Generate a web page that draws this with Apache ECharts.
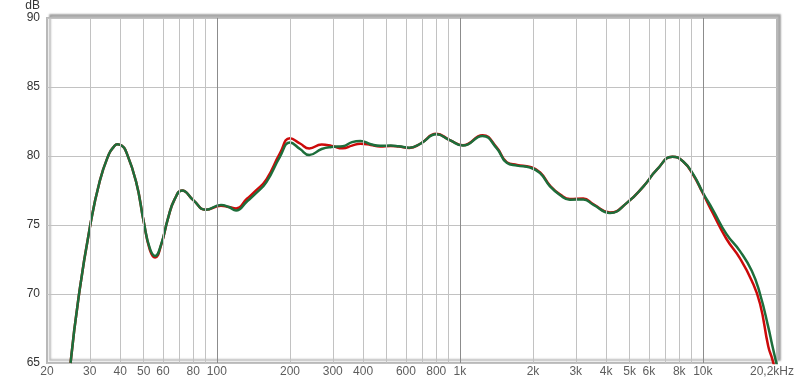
<!DOCTYPE html>
<html>
<head>
<meta charset="utf-8">
<script src="https://cdn.jsdelivr.net/npm/echarts@6/dist/echarts.min.js"></script>
<style>html,body{margin:0;padding:0;background:#fff}#c{width:800px;height:385px}</style>
</head>
<body>
<div id="c"></div>
<script>
const freqHz = [25,27,30,33,36,37.5,39,40.5,42,46.5,50,53,55.7,59,63,67,72,80,90,104,112,120,133,145,160,182,200,220,240,270,297,330,360,390,430,470,520,560,620,690,800,910,1030,1240,1420,1560,1720,1950,2140,2350,2590,2840,3220,3550,4150,4870,5700,6470,7500,8300,9150,10000,11000,12500,14200,15900,17200,18600,19300,20200];
const greenDb = [65.0,69.8,74.8,78.2,80.15,80.62,80.85,80.75,80.45,78.15,75.25,73.3,72.75,73.6,75.5,76.85,77.5,76.8,76.1,76.45,76.3,76.05,76.7,77.3,78.1,79.95,80.97,80.5,80.07,80.5,80.65,80.7,81.0,81.09,80.85,80.73,80.75,80.7,80.6,80.9,81.57,81.14,80.75,81.45,80.55,79.5,79.3,79.15,78.75,77.8,77.15,76.83,76.85,76.45,75.87,76.6,77.8,79.0,79.94,79.6,78.65,77.35,76.1,74.35,73.12,71.68,70.0,67.6,66.3,64.8];
const redDb = [65.0,69.8,74.8,78.2,80.15,80.62,80.85,80.75,80.45,78.15,75.25,73.2,72.65,73.55,75.5,76.85,77.5,76.8,76.1,76.4,76.3,76.2,76.9,77.5,78.3,80.2,81.28,80.9,80.54,80.83,80.73,80.55,80.75,80.88,80.8,80.68,80.72,80.68,80.58,80.9,81.6,81.15,80.78,81.5,80.6,79.55,79.35,79.2,78.8,77.85,77.2,76.88,76.92,76.5,75.9,76.6,77.8,79.0,79.94,79.6,78.6,77.3,75.85,74.0,72.6,70.96,69.29,66.2,65.3,64.0];
const minorGridHz = [30,40,50,60,70,80,90,200,300,400,500,600,700,800,900,2000,3000,4000,5000,6000,7000,8000,9000];
const majorGridHz = [100,1000,10000];
const tickHz = [20,30,40,50,60,80,100,200,300,400,600,800,1000,2000,3000,4000,5000,6000,8000,10000,20200];
const tickText = ['20','30','40','50','60','80','100','200','300','400','600','800','1k','2k','3k','4k','5k','6k','8k','10k','20,2kHz'];
const yMin = 65, yMax = 90, yStep = 5;
const xMin = 20, xMax = 20200;

const chart = echarts.init(document.getElementById('c'), null, {renderer: 'canvas'});
const font = 'Liberation Sans, Arial, sans-serif';
const toPairs = arr => freqHz.map((f, i) => [f, arr[i]]);

chart.setOption({
  animation: false,
  backgroundColor: '#ffffff',
  grid: {
    left: 47, right: 23, top: 15, bottom: 22,
    show: true, backgroundColor: '#ffffff',
    borderColor: '#b9b9b9', borderWidth: 2,
    shadowColor: 'rgba(0,0,0,0.28)', shadowBlur: 2, shadowOffsetX: 3, shadowOffsetY: -3
  },
  xAxis: {
    type: 'log', logBase: 10, min: xMin, max: xMax,
    axisLabel: {show: false}, axisTick: {show: false}, axisLine: {show: false},
    splitLine: {show: false}, minorSplitLine: {show: false}
  },
  yAxis: {
    type: 'value', min: yMin, max: yMax, interval: yStep,
    name: 'dB', nameLocation: 'end', nameGap: 9,
    nameTextStyle: {color: '#333', fontFamily: font, fontSize: 12, align: 'right', verticalAlign: 'middle', padding: [0, 7, 0, 0]},
    axisLabel: {color: '#333', fontFamily: font, fontSize: 12, margin: 7},
    axisTick: {show: false}, axisLine: {show: false},
    splitLine: {show: true, lineStyle: {color: '#c2c2c2', width: 1}}
  },
  series: [
    {
      type: 'line', silent: true, data: [],
      markLine: {
        silent: true, symbol: 'none', animation: false,
        label: {show: false},
        lineStyle: {color: '#c2c2c2', width: 1, type: 'solid'},
        data: minorGridHz.map(f => ({xAxis: f}))
          .concat(majorGridHz.map(f => ({xAxis: f, lineStyle: {color: '#8c8c8c', width: 1, type: 'solid'}})))
      }
    },
    {
      type: 'scatter', silent: true, clip: false, symbolSize: 0,
      data: tickHz.map((f, i) => ({
        value: [f, yMin],
        label: i === tickHz.length - 1 ? {offset: [-5, 0]} : undefined
      })),
      label: {
        show: true, position: 'bottom', distance: 3,
        color: '#333', fontFamily: font, fontSize: 12,
        formatter: p => tickText[p.dataIndex]
      }
    },
    {
      name: 'red', type: 'line', smooth: 0.5, showSymbol: false, silent: true,
      data: toPairs(redDb),
      lineStyle: {color: '#cc0a0a', width: 2.5}, itemStyle: {color: '#cc0a0a'}
    },
    {
      name: 'green', type: 'line', smooth: 0.5, showSymbol: false, silent: true,
      data: toPairs(greenDb),
      lineStyle: {color: '#1d6e3b', width: 2.5}, itemStyle: {color: '#1d6e3b'}
    }
  ]
});
</script>
</body>
</html>
